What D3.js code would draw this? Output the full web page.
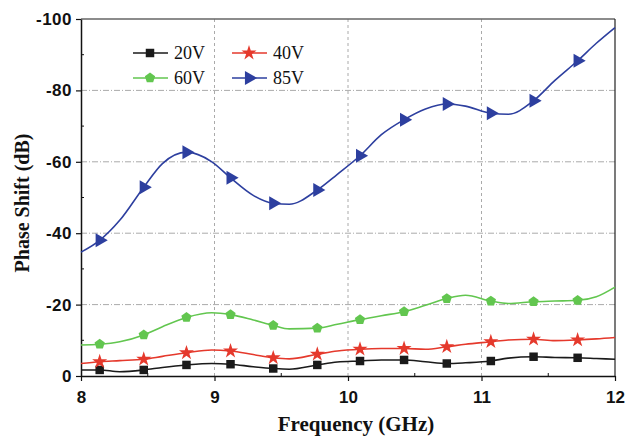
<html>
  <head>
    <meta charset="UTF-8" />
    <style>
      body { margin: 0; background: #fff; }
    </style>
    <script src="https://d3js.org/d3.v7.min.js"></script>
  </head>

  <body>
    <svg id="svg"></svg>

    <script>
      // frequencies (GHz) where the curves were read
      var freqs = [8.0, 8.14, 8.29, 8.47, 8.61, 8.79, 8.98, 9.12, 9.29, 9.44, 9.56, 9.77, 9.92,
        10.09, 10.25, 10.42, 10.58, 10.74, 10.88, 11.07, 11.2, 11.39, 11.55, 11.72, 11.86, 12.0];

      // frequencies that carry a symbol
      var markerFreqs = [8.14, 8.47, 8.79, 9.12, 9.44, 9.77, 10.09, 10.42, 10.74, 11.07, 11.39, 11.72];

      var v20 = [-1.7, -1.7, -1.2, -1.7, -2.4, -3.1, -3.5, -3.3, -2.6, -2.1, -1.9, -3.1, -3.9,
        -4.2, -4.5, -4.5, -4.0, -3.5, -3.7, -4.2, -5.0, -5.4, -5.2, -5.1, -4.9, -4.7];
      var v40 = [-3.5, -4.0, -4.3, -4.7, -5.5, -6.5, -7.3, -7.0, -6.0, -5.1, -4.8, -6.1, -7.0,
        -7.5, -7.7, -7.7, -7.5, -8.2, -8.9, -9.6, -10.1, -10.3, -9.9, -10.1, -10.4, -10.8];
      var v60 = [-8.7, -8.9, -9.6, -11.5, -13.8, -16.4, -17.7, -17.2, -15.7, -14.2, -13.2, -13.4, -14.5,
        -15.8, -16.9, -18.0, -19.8, -21.7, -22.6, -21.0, -20.3, -20.8, -21.0, -21.2, -22.2, -24.9];
      var v85 = [-34.7, -38.0, -43.6, -52.9, -59.5, -62.7, -60.0, -55.5, -50.6, -48.4, -48.1, -52.1, -56.5,
        -61.7, -67.6, -71.8, -74.8, -76.2, -75.6, -73.6, -73.3, -77.1, -82.8, -88.3, -93.2, -97.6];

      var xTicks = [8, 9, 10, 11, 12];
      var yTicks = [0, -20, -40, -60, -80, -100];

      var series = [
        { name: "20V", values: v20, color: "#1a1a1a", symbol: d3.symbolSquare, size: 72, rot: 0 },
        { name: "40V", values: v40, color: "#e5392c", symbol: d3.symbolStar, size: 70, rot: 0 },
        { name: "60V", values: v60, color: "#62c64f", symbol: null, size: 0, rot: 0, pent: true },
        { name: "85V", values: v85, color: "#2d3f9f", symbol: d3.symbolTriangle, size: 85, rot: 90 }
      ];

      var width = 628,
        height = 437;
      var margin = { left: 81, right: 13, top: 19, bottom: 61 };

      var svg = d3.select("#svg").attr("width", width).attr("height", height);

      var x = d3.scaleLinear().domain([8, 12]).range([margin.left, width - margin.right]);
      var y = d3.scaleLinear().domain([0, -100]).range([height - margin.bottom, margin.top]);

      // pentagon path for the 60V symbol
      function pentagon(r) {
        var pts = [];
        for (var i = 0; i < 5; i++) {
          var a = -Math.PI / 2 + (i * 2 * Math.PI) / 5;
          pts.push([r * Math.cos(a), r * Math.sin(a)]);
        }
        return "M" + pts.map((p) => p.join(",")).join("L") + "Z";
      }

      function symbolPath(s) {
        if (s.pent) return pentagon(5.4);
        return d3.symbol().type(s.symbol).size(s.size)();
      }

      // grid
      var grid = svg.append("g");
      grid
        .selectAll("line.h")
        .data([-20, -40, -60, -80])
        .enter()
        .append("line")
        .attr("x1", x(8))
        .attr("x2", x(12))
        .attr("y1", (d) => y(d))
        .attr("y2", (d) => y(d))
        .attr("stroke", "#aaa")
        .attr("stroke-width", 1)
        .attr("stroke-dasharray", "6,2,1,2");
      grid
        .selectAll("line.v")
        .data([9, 10, 11])
        .enter()
        .append("line")
        .attr("x1", (d) => x(d))
        .attr("x2", (d) => x(d))
        .attr("y1", y(0))
        .attr("y2", y(-100))
        .attr("stroke", "#aaa")
        .attr("stroke-width", 1)
        .attr("stroke-dasharray", "3,3");

      // top and right frame
      svg
        .append("line")
        .attr("x1", x(8))
        .attr("x2", x(12))
        .attr("y1", y(-100))
        .attr("y2", y(-100))
        .attr("stroke", "#666")
        .attr("stroke-width", 1.5);
      svg
        .append("line")
        .attr("x1", x(12))
        .attr("x2", x(12))
        .attr("y1", y(-100))
        .attr("y2", y(0))
        .attr("stroke", "#222")
        .attr("stroke-width", 1.2);

      // axes (plain hyphen for negatives, like the original)
      var tickFont = "'Liberation Sans', Arial, sans-serif";
      var xAxis = svg
        .append("g")
        .attr("transform", "translate(0," + y(0) + ")")
        .call(d3.axisBottom(x).tickValues(xTicks).tickSize(5).tickSizeOuter(0).tickFormat((d) => String(d)));
      var yAxis = svg
        .append("g")
        .attr("transform", "translate(" + x(8) + ",0)")
        .call(d3.axisLeft(y).tickValues(yTicks).tickSize(5).tickSizeOuter(0).tickFormat((d) => String(d)));

      [xAxis, yAxis].forEach((a) => {
        a.select(".domain").attr("stroke", "#111").attr("stroke-width", 1.5);
        a.selectAll(".tick line").attr("stroke", "#111").attr("stroke-width", 1.2);
        a.selectAll("text")
          .attr("fill", "#111")
          .style("font-family", tickFont)
          .style("font-weight", "bold")
          .style("font-size", "17px");
      });
      xAxis.selectAll("text").attr("dy", "1.1em");
      yAxis.selectAll("text").attr("x", -9).style("letter-spacing", "0.5px");

      // minor ticks, pointing inward
      svg
        .append("g")
        .selectAll("line")
        .data([8.5, 9.5, 10.5, 11.5])
        .enter()
        .append("line")
        .attr("x1", (d) => x(d))
        .attr("x2", (d) => x(d))
        .attr("y1", y(0))
        .attr("y2", y(0) - 3)
        .attr("stroke", "#111");
      svg
        .append("g")
        .selectAll("line")
        .data([-10, -30, -50, -70, -90])
        .enter()
        .append("line")
        .attr("x1", x(8))
        .attr("x2", x(8) + 3)
        .attr("y1", (d) => y(d))
        .attr("y2", (d) => y(d))
        .attr("stroke", "#111");

      // axis titles
      svg
        .append("text")
        .attr("x", 356)
        .attr("y", 431)
        .attr("text-anchor", "middle")
        .style("font-family", "'Liberation Serif', 'Times New Roman', serif")
        .style("font-weight", "bold")
        .style("font-size", "21px")
        .attr("fill", "#111")
        .text("Frequency (GHz)");
      svg
        .append("text")
        .attr("transform", "translate(29,203) rotate(-90)")
        .attr("text-anchor", "middle")
        .style("font-family", "'Liberation Serif', 'Times New Roman', serif")
        .style("font-weight", "bold")
        .style("font-size", "20px")
        .attr("fill", "#111")
        .text("Phase Shift (dB)");

      // curves
      var line = d3
        .line()
        .x((d) => x(d[0]))
        .y((d) => y(d[1]))
        .curve(d3.curveMonotoneX);

      series.forEach((s) => {
        var pts = freqs.map((f, i) => [f, s.values[i]]);
        svg
          .append("path")
          .datum(pts)
          .attr("fill", "none")
          .attr("stroke", s.color)
          .attr("stroke-width", 1.6)
          .attr("d", line);

        svg
          .append("g")
          .selectAll("path")
          .data(pts.filter((p) => markerFreqs.indexOf(p[0]) >= 0))
          .enter()
          .append("path")
          .attr("d", symbolPath(s))
          .attr("fill", s.color)
          .attr("transform", (d) => "translate(" + x(d[0]) + "," + y(d[1]) + ") rotate(" + s.rot + ")");
      });

      // legend
      var legend = svg.append("g");
      var legendPos = [
        [133, 53],
        [232, 53],
        [133, 78],
        [232, 78]
      ];
      series.forEach((s, i) => {
        var p = legendPos[i];
        legend
          .append("line")
          .attr("x1", p[0])
          .attr("x2", p[0] + 35)
          .attr("y1", p[1])
          .attr("y2", p[1])
          .attr("stroke", s.color)
          .attr("stroke-width", 1.6);
        legend
          .append("path")
          .attr("d", symbolPath(s))
          .attr("fill", s.color)
          .attr("transform", "translate(" + (p[0] + 17) + "," + p[1] + ") rotate(" + s.rot + ")");
        legend
          .append("text")
          .attr("x", p[0] + 41)
          .attr("y", p[1] + 6)
          .style("font-family", "'Liberation Serif', 'Times New Roman', serif")
          .style("font-size", "18px")
          .attr("fill", "#111")
          .text(s.name);
      });
    </script>
  </body>
</html>
